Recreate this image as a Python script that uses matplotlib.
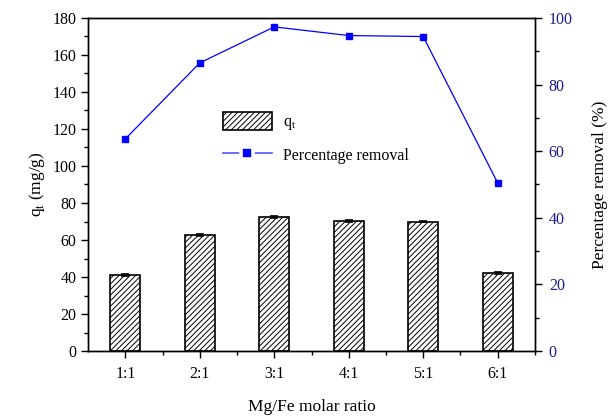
import matplotlib
matplotlib.use("Agg")
import matplotlib.pyplot as plt
from matplotlib.ticker import MultipleLocator
from matplotlib.lines import Line2D
from matplotlib.patches import Patch
import numpy as np

ratios = ["1:1", "2:1", "3:1", "4:1", "5:1", "6:1"]
qt = [41.0, 62.5, 72.5, 70.2, 70.0, 42.0]
qt_err = [0.6, 0.5, 0.5, 0.5, 0.4, 0.5]
removal = [63.7, 86.5, 97.3, 94.7, 94.4, 50.5]

plt.rcParams["font.family"] = "Liberation Serif"
plt.rcParams["hatch.linewidth"] = 0.7

fig, ax = plt.subplots(figsize=(6.12, 4.16), dpi=100)
fig.subplots_adjust(left=0.144, right=0.874, top=0.957, bottom=0.156)

x = np.arange(len(ratios))
ax.bar(x, qt, width=0.4, color="white", edgecolor="black", hatch="//////",
       linewidth=1.2, yerr=qt_err, capsize=3, error_kw=dict(elinewidth=0.8, capthick=1.2))
ax.set_xlim(-0.5, 5.5)
ax.set_ylim(0, 180)
ax.set_xticks(x)
ax.set_xticklabels(ratios)
ax.set_xticks(x + 0.5, minor=True)
ax.yaxis.set_major_locator(MultipleLocator(20))
ax.yaxis.set_minor_locator(MultipleLocator(10))
ax.tick_params(direction="out", labelsize=11.5, length=5, width=1)
ax.tick_params(axis="x", pad=6)
ax.tick_params(which="minor", direction="out", length=3, width=1)
ax.set_xlabel("Mg/Fe molar ratio", fontsize=12.5, labelpad=12)
ax.set_ylabel("q$_\\mathregular{t}$ (mg/g)", fontsize=12.5)

ax2 = ax.twinx()
ax2.plot(x, removal, color="#0000ff", linewidth=0.9, marker="s", markersize=4)
ax2.set_ylim(0, 100)
ax2.yaxis.set_major_locator(MultipleLocator(20))
ax2.yaxis.set_minor_locator(MultipleLocator(10))
ax2.tick_params(direction="out", labelsize=11.5, length=5, width=1, labelcolor="#1c1c8c", pad=5)
ax2.tick_params(which="minor", direction="out", length=3, width=1)
ax2.set_ylabel("Percentage removal (%)", fontsize=12.5, labelpad=14)

for a in (ax, ax2):
    for s in a.spines.values():
        s.set_linewidth(1.0)

bar_handle = Patch(facecolor="white", edgecolor="black", hatch="//////", linewidth=1.2)
line_handle = Line2D([], [], color="#5555ff", linewidth=1.2, marker="s", markersize=8,
                     markerfacecolor="#0000ff", markeredgecolor="white", markeredgewidth=2.6)
ax.legend([bar_handle, line_handle], ["q$_\\mathregular{t}$", "Percentage removal"],
          loc="upper left", bbox_to_anchor=(0.269, 0.76), frameon=False, fontsize=11.5,
          handlelength=3.1, handleheight=1.3, labelspacing=0.85, handletextpad=0.7)

fig.savefig("out.png", dpi=100)
